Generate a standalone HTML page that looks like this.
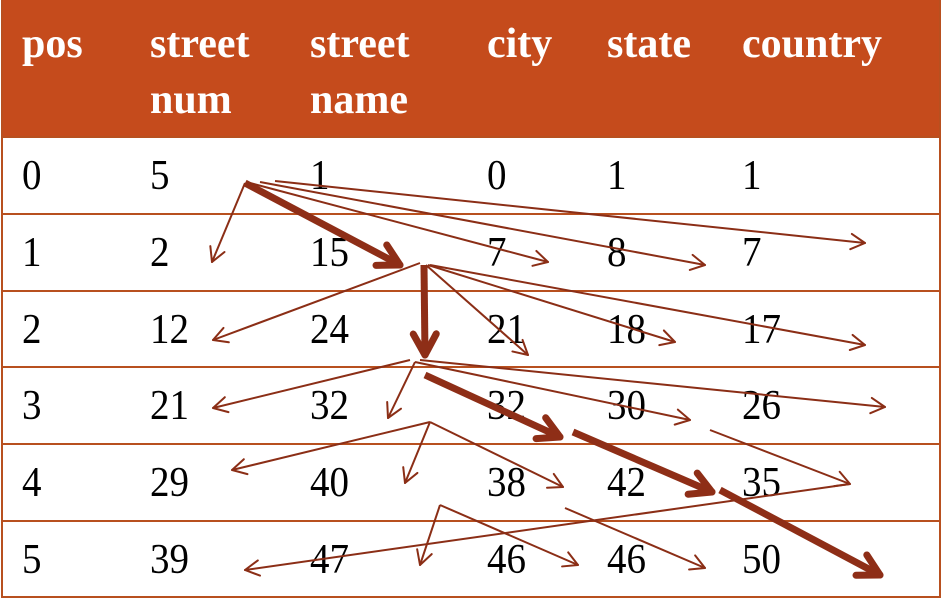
<!DOCTYPE html>
<html><head><meta charset="utf-8"><style>
body{margin:0;width:944px;height:604px;background:#fff;overflow:hidden;font-family:"Liberation Serif",serif;}
#wrap{position:absolute;left:0;top:0;width:944px;height:604px;}
.hdr{position:absolute;left:2px;top:0;width:938px;height:137px;background:#C54B1C;}
.h{position:absolute;color:#fff;font-weight:bold;font-size:42px;line-height:56px;}
.c{position:absolute;color:#000;font-size:39px;line-height:40px;transform:scaleY(1.08);transform-origin:0 50%;}
.hl{position:absolute;left:2px;width:938px;height:2px;background:#B8501F;}
.vl{position:absolute;top:0;width:2px;height:598px;background:#B8501F;}
svg{position:absolute;left:0;top:0;}
</style></head><body>
<div id="wrap">
<div class="hdr"></div>
<div class="h" style="left:22px;top:16px">pos</div>
<div class="h" style="left:150px;top:16px">street<br>num</div>
<div class="h" style="left:310px;top:16px">street<br>name</div>
<div class="h" style="left:487px;top:16px">city</div>
<div class="h" style="left:607px;top:16px">state</div>
<div class="h" style="left:742px;top:16px">country</div>
<div class="vl" style="left:1px"></div>
<div class="vl" style="left:939px"></div>
<div id="rows"></div>
<svg id="arr" width="944" height="604"></svg>
</div>
<script>
const rows=[[0,5,1,0,1,1],[1,2,15,7,8,7],[2,12,24,21,18,17],[3,21,32,32,30,26],[4,29,40,38,42,35],[5,39,47,46,46,50]];
const colX=[22,150,310,487,607,742];
const lineY=[137,214,291,367,444,521,597];
// arrows: x1,y1,x2,y2,thick
const arrows=[
[245,183,212,262,0],[245,183,400,265,1],[250,183,548,262,0],[260,182,705,265,0],[275,181,865,243,0],
[420,263,213,340,0],[424,265,425,355,1],[426,265,528,355,0],[428,265,675,342,0],[430,265,865,345,0],
[410,360,213,408,0],[415,362,388,418,0],[425,375,560,437,1],[415,362,690,420,0],[420,360,885,407,0],
[430,422,232,470,0],[430,422,405,483,0],[430,422,563,487,0],[573,432,712,492,1],[710,430,850,484,0],
[440,505,420,565,0],[440,505,578,565,0],[565,508,705,568,0],[720,490,880,575,1],[850,484,245,570,0]];
const R=document.getElementById('rows');
lineY.forEach((y,i)=>{const d=document.createElement('div');d.className='hl';d.style.top=(y-1)+'px';


R.appendChild(d);});
rows.forEach((r,i)=>{r.forEach((v,j)=>{const d=document.createElement('div');d.className='c';
d.style.left=colX[j]+'px';d.style.top=(lineY[i]+19)+'px';d.textContent=v;


R.appendChild(d);});});
const S=document.getElementById('arr');const ns='http://www.w3.org/2000/svg';
arrows.forEach(a=>{const [x1,y1,x2,y2,t]=a;const w=t?7:2;const col=t?'#8E2E17':'#8B2E16';
const ang=Math.atan2(y2-y1,x2-x1);const L=t?24:16;
const g=document.createElementNS(ns,'g');


const l=document.createElementNS(ns,'line');l.setAttribute('x1',x1);l.setAttribute('y1',y1);l.setAttribute('x2',x2);l.setAttribute('y2',y2);
l.setAttribute('stroke',col);l.setAttribute('stroke-width',w);g.appendChild(l);
[0.5,-0.5].forEach(da=>{const h=document.createElementNS(ns,'line');h.setAttribute('x1',x2);h.setAttribute('y1',y2);
h.setAttribute('x2',x2-L*Math.cos(ang+da));h.setAttribute('y2',y2-L*Math.sin(ang+da));
h.setAttribute('stroke',col);h.setAttribute('stroke-width',w);h.setAttribute('stroke-linecap','round');g.appendChild(h);});
S.appendChild(g);});
</script>
</body></html>
